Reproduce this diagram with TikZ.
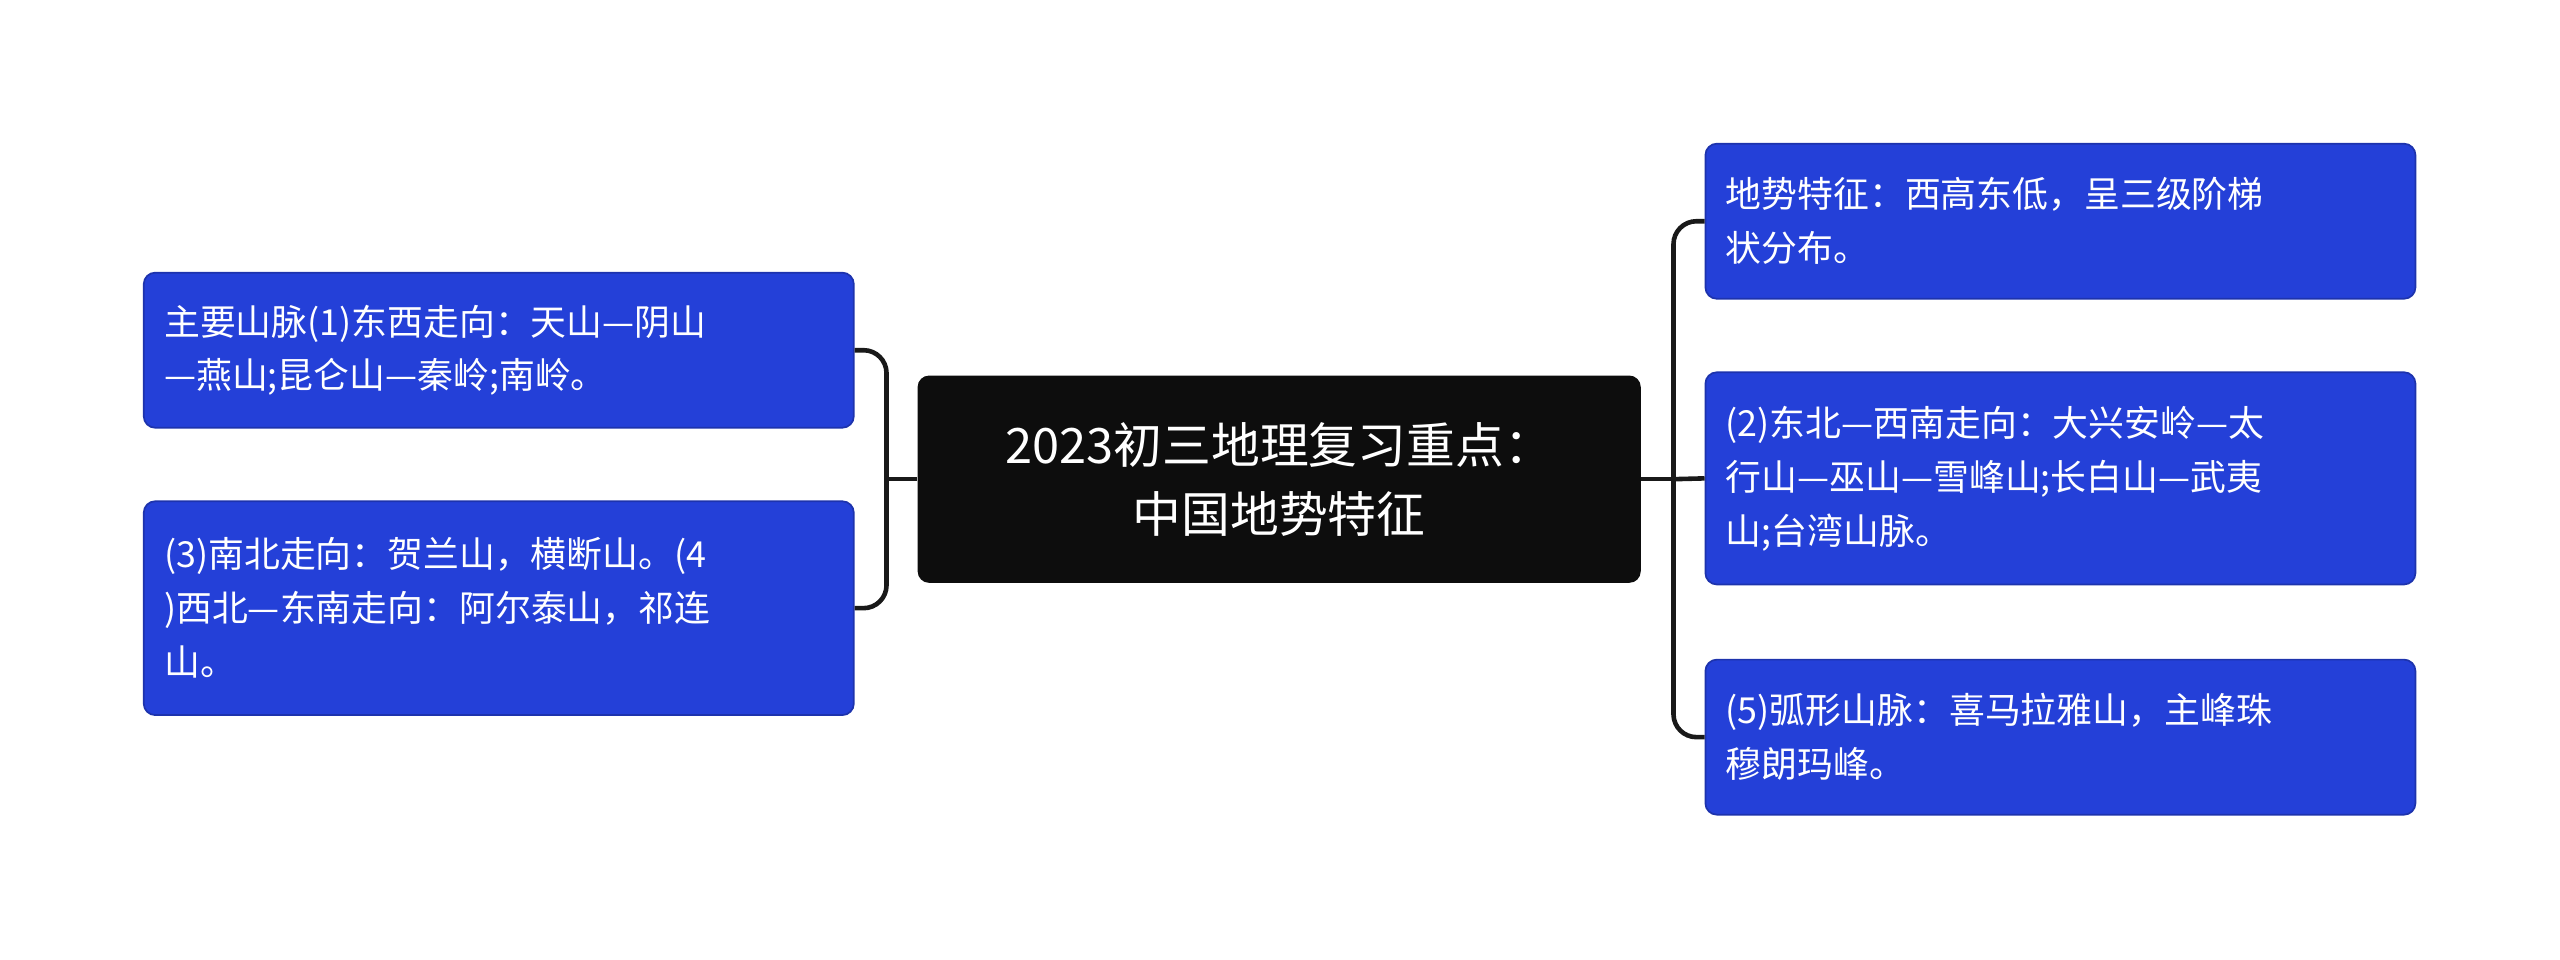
\documentclass[tikz,border=0pt]{standalone}
\usepackage{fontspec}
\setmainfont{Noto Sans CJK SC}
\definecolor{boxblue}{HTML}{2440D8}
\definecolor{boxdark}{HTML}{0D0D0D}
\tikzset{
  leaf/.style={draw=boxblue!80!black, line width=0.6pt, fill=boxblue, text=white, rounded corners=4pt,
    minimum width=8.7cm, text width=8.2cm, align=left, inner xsep=0.25cm,
    font=\fontsize{12.5}{18.8}\selectfont},
  root/.style={fill=boxdark, text=white, rounded corners=4pt, minimum width=8.86cm, minimum height=2.54cm,
    align=center, font=\fontsize{17}{24}\selectfont},
  link/.style={line width=1.6pt, black!90, rounded corners=8pt}
}
\begin{document}
\begin{tikzpicture}[x=0.02cm,y=0.02cm]
\useasboundingbox (0,0) rectangle (1568,-588);
\node[root] (c) at (783.5,-293.5) {2023初三地理复习重点：\\中国地势特征};
\node[leaf, minimum height=1.9cm] (l1) at (305.5,-214.5) {主要山脉(1)东西走向：天山—阴山\\—燕山;昆仑山—秦岭;南岭。};
\node[leaf, minimum height=2.62cm] (l2) at (305.5,-372.5) {(3)南北走向：贺兰山，横断山。(4\\)西北—东南走向：阿尔泰山，祁连\\山。};
\node[leaf, minimum height=1.9cm] (r1) at (1262,-135.5) {地势特征：西高东低，呈三级阶梯\\状分布。};
\node[leaf, minimum height=2.6cm] (r2) at (1262,-293) {(2)东北—西南走向：大兴安岭—太\\行山—巫山—雪峰山;长白山—武夷\\山;台湾山脉。};
\node[leaf, minimum height=1.9cm] (r3) at (1262,-451.5) {(5)弧形山脉：喜马拉雅山，主峰珠\\穆朗玛峰。};
\coordinate (lb) at (543,-293.5);
\coordinate (rb) at (1025,-293.5);
\draw[link] (c.west) -- (lb);
\draw[link] (l1.east) -| (lb);
\draw[link] (l2.east) -| (lb);
\draw[link] (c.east) -- (rb);
\draw[link] (r1.west) -| (rb);
\draw[link] (r2.west) -- (rb);
\draw[link] (r3.west) -| (rb);
\end{tikzpicture}
\end{document}
